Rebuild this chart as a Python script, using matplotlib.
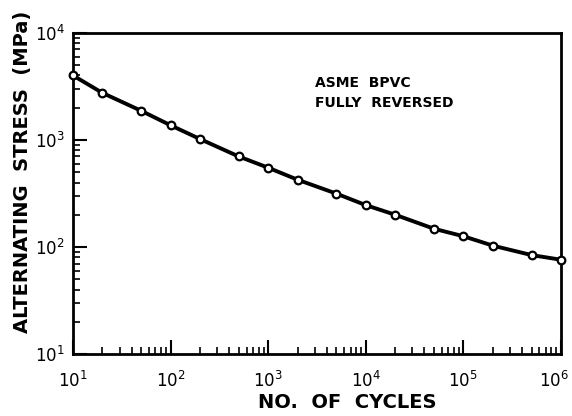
import matplotlib
matplotlib.use("Agg")
import matplotlib.pyplot as plt
import matplotlib.transforms as mtransforms
from matplotlib.ticker import FixedLocator, FixedFormatter, LogLocator, NullFormatter

cycles = [10, 20, 50, 100, 200, 500, 1e3, 2e3, 5e3, 1e4, 2e4, 5e4, 1e5, 2e5, 5e5, 1e6]
stress = [4000, 2750, 1870, 1370, 1020, 700, 550, 425, 315, 246, 200, 148, 126, 103, 84, 76]

x_ticks = [1e1, 1e2, 1e3, 1e4, 1e5, 1e6]
x_labels = [r'$10^{1}$', r'$10^{2}$', r'$10^{3}$', r'$10^{4}$', r'$10^{5}$', r'$10^{6}$']
y_ticks = [1e1, 1e2, 1e3, 1e4]
y_labels = [r'$10^{1}$', r'$10^{2}$', r'$10^{3}$', r'$10^{4}$']

plt.rcParams['font.family'] = ['DejaVu Sans']
plt.rcParams['mathtext.fontset'] = 'dejavusans'
plt.rcParams['mathtext.default'] = 'regular'

fig = plt.figure(figsize=(5.72, 4.16), dpi=100)
ax = fig.add_axes([0.1276, 0.149, 0.853, 0.772])

ax.plot(cycles, stress, color='black', lw=2.8, marker='o', ms=5.5,
        mfc='white', mec='black', mew=1.6, clip_on=False, zorder=3)

ax.set_xscale('log')
ax.set_yscale('log')
ax.set_xlim(1e1, 1e6)
ax.set_ylim(1e1, 1e4)

ax.xaxis.set_major_locator(FixedLocator(x_ticks))
ax.xaxis.set_major_formatter(FixedFormatter(x_labels))
ax.yaxis.set_major_locator(FixedLocator(y_ticks))
ax.yaxis.set_major_formatter(FixedFormatter(y_labels))
ax.xaxis.set_minor_locator(LogLocator(base=10, subs=range(2, 10), numticks=20))
ax.yaxis.set_minor_locator(LogLocator(base=10, subs=range(2, 10), numticks=20))
ax.xaxis.set_minor_formatter(NullFormatter())
ax.yaxis.set_minor_formatter(NullFormatter())

ax.tick_params(axis='both', which='major', direction='in', length=10, width=1.5,
               labelsize=12, top=False, right=False)
ax.tick_params(axis='x', which='major', pad=12)
ax.tick_params(axis='y', which='major', pad=6)
ax.tick_params(which='minor', direction='in', length=5, width=1.2, top=False, right=False)

for s in ax.spines.values():
    s.set_linewidth(2.0)

# nudge the last x tick label so it stays inside the figure
last = ax.get_xticklabels()[-1]
last.set_transform(last.get_transform() +
                   mtransforms.ScaledTranslation(-7 / 100, 0, fig.dpi_scale_trans))

ax.set_xlabel('NO.  OF  CYCLES', fontsize=14, fontweight='bold')
ax.xaxis.set_label_coords(0.563, -0.121)
ax.set_ylabel('ALTERNATING  STRESS  (MPa)', fontsize=14, fontweight='bold')
ax.yaxis.set_label_coords(-0.085, 0.567)

ax.text(0.495, 0.865, 'ASME  BPVC\nFULLY  REVERSED', transform=ax.transAxes,
        fontsize=10, fontweight='bold', va='top', ha='left', linespacing=1.5)

fig.savefig('out.png', dpi=100)
